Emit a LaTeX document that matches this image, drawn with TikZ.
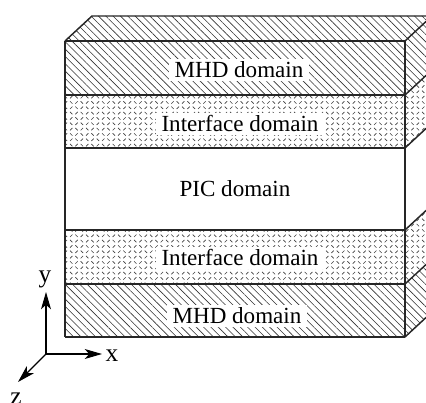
\documentclass[tikz,border=0pt]{standalone}
\usepackage{fontspec}
\setmainfont{Liberation Serif}
\usetikzlibrary{patterns,patterns.meta,arrows.meta}

\pgfdeclarepatternformonly{interfacedash}{\pgfqpoint{-1pt}{-1pt}}{\pgfqpoint{9pt}{9pt}}{\pgfqpoint{8pt}{8pt}}{
	\pgfsetlinewidth{0.5pt}
	\pgfpathmoveto{\pgfqpoint{0.5pt}{0.5pt}}\pgfpathlineto{\pgfqpoint{2.3pt}{2.3pt}}
	\pgfpathmoveto{\pgfqpoint{4.5pt}{2.3pt}}\pgfpathlineto{\pgfqpoint{6.3pt}{0.5pt}}
	\pgfpathmoveto{\pgfqpoint{4.5pt}{4.5pt}}\pgfpathlineto{\pgfqpoint{6.3pt}{6.3pt}}
	\pgfpathmoveto{\pgfqpoint{0.5pt}{6.3pt}}\pgfpathlineto{\pgfqpoint{2.3pt}{4.5pt}}
	\pgfusepath{stroke}
}

\tikzset{
	mhdhatch/.style={pattern={Lines[angle=-45,distance=3.9pt,line width=0.45pt]},pattern color=black!80},
	ifacehatch/.style={pattern=interfacedash,pattern color=black!75},
	boxedge/.style={line width=1.1pt,black!85},
	domainlabel/.style={fill=white,inner xsep=4pt,inner ysep=2pt,font=\fontsize{17.3}{20}\selectfont,text height=12pt,text depth=1pt},
	axisarrow/.style={line width=0.8pt,-{Stealth[length=13pt,width=7.5pt,inset=3.5pt]}},
	axislabel/.style={font=\fontsize{19}{20}\selectfont,inner sep=0pt}
}

\begin{document}
\begin{tikzpicture}[x=0.75pt,y=-0.75pt]
	\useasboundingbox (0,0) rectangle (426,403);
	\begin{scope}
		\clip (0,0) rectangle (426,403);
		
		% top and side faces
		\path[mhdhatch] (65,41) -- (92,16) -- (432,16) -- (405,41) -- cycle;
		\path[mhdhatch] (405,41) -- (432,16) -- (432,70) -- (405,95) -- cycle;
		\path[ifacehatch] (405,95) -- (432,70) -- (432,123) -- (405,148) -- cycle;
		\path[ifacehatch] (405,230) -- (432,205) -- (432,259) -- (405,284) -- cycle;
		\path[mhdhatch] (405,284) -- (432,259) -- (432,312) -- (405,337) -- cycle;
		
		% front face
		\path[mhdhatch] (65,41) rectangle (405,95);
		\path[ifacehatch] (65,95) rectangle (405,148);
		\path[ifacehatch] (65,230) rectangle (405,284);
		\path[mhdhatch] (65,284) rectangle (405,337);
		
		\draw[boxedge] (65,41) -- (92,16) -- (432,16);
		\draw[boxedge] (405,41) -- (432,16);
		\foreach \i in {95,148,230,284,337}{
			\draw[boxedge] (405,\i) -- ++(27,-25);
		}
		\foreach \i in {41,95,148,230,284,337}{
			\draw[boxedge] (65,\i) -- (405,\i);
		}
		\draw[boxedge] (65,41) -- (65,337);
		\draw[boxedge] (405,41) -- (405,337);
	\end{scope}
	
	\node[domainlabel] (mhdtop) at (239,70) {MHD domain};
	\node[domainlabel] (ifacetop) at (240,124) {Interface domain};
	\node[domainlabel] (pic) at (235,189) {PIC domain};
	\node[domainlabel] (ifacebot) at (240,258) {Interface domain};
	\node[domainlabel] (mhdbot) at (237,316) {MHD domain};
	
	\coordinate (origin) at (46,354);
	\coordinate (yend) at (46,292);
	\coordinate (xend) at (102,354);
	\coordinate (zend) at (18,382);
	\draw[axisarrow] (origin) -- (yend);
	\draw[axisarrow] (origin) -- (xend);
	\draw[axisarrow] (origin) -- (zend);
	\node[axislabel] (ylabel) at (45,279) {y};
	\node[axislabel] (xlabel) at (112,356) {x};
	\node[axislabel] (zlabel) at (16,399) {z};
\end{tikzpicture}
\end{document}
